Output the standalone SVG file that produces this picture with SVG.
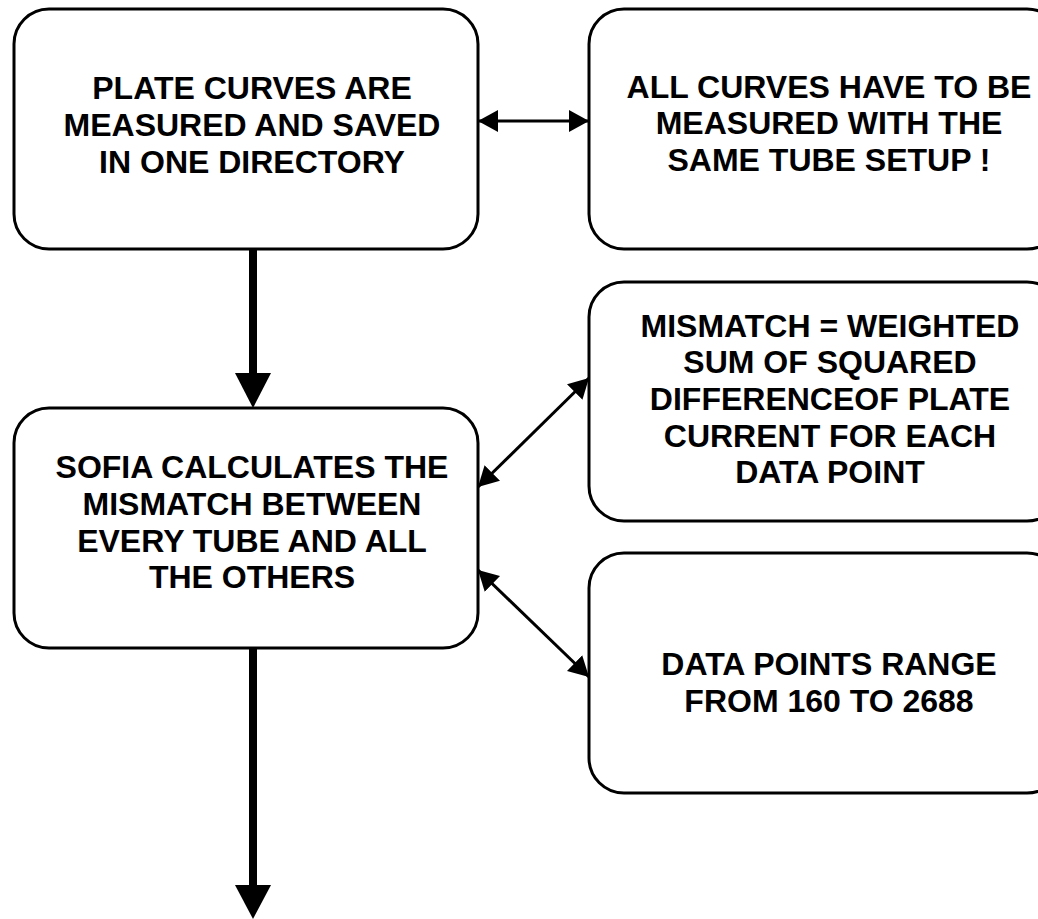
<svg xmlns="http://www.w3.org/2000/svg" width="1038" height="919" viewBox="0 0 1038 919">
<style>
.box{fill:#fff;stroke:#000;stroke-width:3}
.t{font-family:"Liberation Sans",Arial,sans-serif;font-weight:bold;font-size:32px;text-anchor:middle;fill:#000}
.thin{stroke:#000;stroke-width:3;fill:none}
.thick{stroke:#000;stroke-width:8;fill:none}
</style>
<defs>
<marker id="ah" viewBox="0 0 20 22" refX="20" refY="11" markerWidth="20" markerHeight="22" markerUnits="userSpaceOnUse" orient="auto-start-reverse">
<path d="M0,0 L20,11 L0,22 z" fill="#000"/>
</marker>
</defs>
<rect width="1038" height="919" fill="#fff"/>
<g id="connectors">
<line class="thin" x1="478" y1="121" x2="589" y2="121" marker-start="url(#ah)" marker-end="url(#ah)"/>
<line class="thin" x1="478" y1="487" x2="589" y2="378" marker-start="url(#ah)" marker-end="url(#ah)"/>
<line class="thin" x1="478" y1="570" x2="589" y2="677" marker-start="url(#ah)" marker-end="url(#ah)"/>
<line class="thick" x1="253" y1="249" x2="253" y2="378"/>
<path d="M235,373 L271,373 L253,408 z" fill="#000"/>
<line class="thick" x1="253" y1="648" x2="253" y2="890"/>
<path d="M235,885 L271,885 L253,919 z" fill="#000"/>
</g>
<g id="n1">
<rect class="box" x="14" y="9" width="464" height="240" rx="35"/>
<text class="t" x="252" y="99">PLATE CURVES ARE</text>
<text class="t" x="252" y="136">MEASURED AND SAVED</text>
<text class="t" x="252" y="173">IN ONE DIRECTORY</text>
</g>
<g id="n2">
<rect class="box" x="589" y="9" width="473" height="240" rx="35"/>
<text class="t" x="829" y="98">ALL CURVES HAVE TO BE</text>
<text class="t" x="829" y="134">MEASURED WITH THE</text>
<text class="t" x="829" y="171">SAME TUBE SETUP !</text>
</g>
<g id="n3">
<rect class="box" x="14" y="408" width="464" height="240" rx="35"/>
<text class="t" x="252" y="478">SOFIA CALCULATES THE</text>
<text class="t" x="252" y="515">MISMATCH BETWEEN</text>
<text class="t" x="252" y="552">EVERY TUBE AND ALL</text>
<text class="t" x="252" y="588">THE OTHERS</text>
</g>
<g id="n4">
<rect class="box" x="589" y="282" width="473" height="239" rx="35"/>
<text class="t" x="830" y="337">MISMATCH = WEIGHTED</text>
<text class="t" x="830" y="373">SUM OF SQUARED</text>
<text class="t" x="830" y="410">DIFFERENCEOF PLATE</text>
<text class="t" x="830" y="447">CURRENT FOR EACH</text>
<text class="t" x="830" y="483">DATA POINT</text>
</g>
<g id="n5">
<rect class="box" x="589" y="553" width="473" height="240" rx="35"/>
<text class="t" x="829" y="675">DATA POINTS RANGE</text>
<text class="t" x="829" y="712">FROM 160 TO 2688</text>
</g>
</svg>
